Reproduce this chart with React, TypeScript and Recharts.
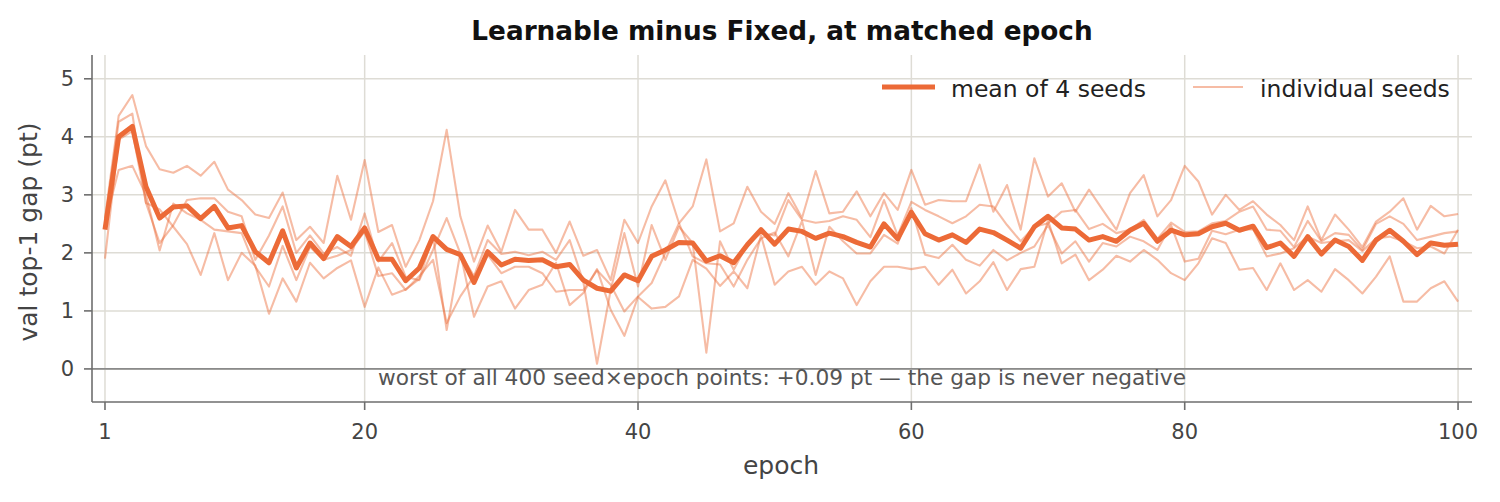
import React from 'react'
import { LineChart, Line, XAxis, YAxis, CartesianGrid, ReferenceLine } from 'recharts'

// epoch index 1..100
const epochs = Array.from({ length: 100 }, (_, i) => i + 1)

// mean of the 4 seeds
const meanGap = [
  2.40, 4.00, 4.18, 3.14, 2.60, 2.79, 2.81, 2.59, 2.80, 2.43,
  2.47, 2.02, 1.83, 2.38, 1.74, 2.17, 1.90, 2.28, 2.11, 2.43,
  1.89, 1.89, 1.52, 1.74, 2.28, 2.06, 1.97, 1.49, 2.02, 1.79,
  1.89, 1.87, 1.88, 1.76, 1.80, 1.53, 1.39, 1.34, 1.62, 1.52,
  1.94, 2.05, 2.18, 2.17, 1.86, 1.95, 1.83, 2.14, 2.40, 2.15,
  2.41, 2.37, 2.25, 2.34, 2.28, 2.18, 2.10, 2.50, 2.24, 2.70,
  2.33, 2.22, 2.31, 2.18, 2.41, 2.35, 2.22, 2.08, 2.45, 2.63,
  2.43, 2.41, 2.22, 2.28, 2.20, 2.39, 2.51, 2.20, 2.39, 2.31,
  2.33, 2.45, 2.51, 2.39, 2.46, 2.09, 2.17, 1.94, 2.28, 1.98,
  2.22, 2.11, 1.87, 2.22, 2.39, 2.20, 1.97, 2.17, 2.13, 2.15,
]

// individual seeds
const seedA = [
  2.6, 4.36, 4.72, 3.84, 3.44, 3.38, 3.50, 3.33, 3.57, 3.09,
  2.91, 2.66, 2.6, 3.04, 2.22, 2.45, 2.17, 3.33, 2.57, 3.60,
  2.36, 2.48, 1.76, 2.22, 2.89, 4.12, 2.63, 1.85, 2.47, 2.02,
  2.74, 2.40, 2.40, 2.0, 2.54, 1.95, 2.05, 1.53, 2.57, 2.17,
  2.80, 3.25, 2.51, 2.80, 3.61, 2.37, 2.51, 3.14, 2.71, 2.5,
  3.03, 2.6, 3.41, 2.68, 2.71, 3.06, 2.63, 3.03, 2.74, 3.43,
  2.83, 2.91, 2.89, 2.89, 3.52, 2.71, 3.17, 2.4, 3.63, 2.97,
  3.20, 2.71, 3.09, 2.74, 2.4, 3.03, 3.34, 2.63, 2.91, 3.50,
  3.23, 2.66, 3.0, 2.74, 2.89, 2.66, 2.48, 2.22, 2.80, 2.22,
  2.66, 2.40, 2.1, 2.54, 2.71, 2.94, 2.40, 2.81, 2.63, 2.67,
]
const seedB = [
  2.5, 4.26, 4.40, 2.86, 2.17, 2.48, 2.91, 2.94, 2.94, 2.71,
  2.63, 1.88, 2.3, 2.80, 2.0, 2.3, 1.99, 2.1, 1.95, 2.68,
  1.85, 2.17, 1.59, 1.53, 2.05, 2.6, 1.99, 1.6, 2.22, 1.98,
  2.02, 1.96, 2.02, 1.88, 2.22, 1.5, 0.09, 1.36, 2.34, 1.42,
  2.48, 1.88, 2.45, 2.17, 0.28, 2.2, 1.71, 2.15, 2.34, 2.3,
  2.91, 2.57, 2.52, 2.55, 2.63, 2.57, 2.27, 2.91, 2.3, 2.88,
  2.74, 2.63, 2.51, 2.63, 2.83, 2.8, 2.48, 2.2, 2.45, 2.51,
  2.71, 2.74, 2.41, 2.5, 2.34, 2.4, 2.57, 2.24, 2.52, 2.36,
  2.37, 2.51, 2.55, 2.71, 2.80, 2.4, 2.38, 2.1, 2.55, 2.2,
  2.34, 2.31, 2.05, 2.5, 2.63, 2.5, 2.22, 2.28, 2.34, 2.37,
]
const seedC = [
  2.5, 3.43, 3.50, 3.0, 2.04, 2.85, 2.68, 2.57, 2.40, 2.37,
  2.34, 1.76, 1.42, 2.12, 1.53, 2.1, 1.88, 1.95, 2.05, 2.37,
  1.6, 1.65, 1.36, 1.6, 1.88, 0.79, 1.25, 1.6, 1.97, 1.65,
  1.76, 1.76, 1.65, 1.33, 1.36, 1.36, 1.7, 1.45, 0.99, 1.25,
  1.48, 2.0, 2.51, 1.94, 1.82, 1.8, 1.42, 1.88, 2.25, 2.35,
  1.94, 2.55, 1.62, 2.45, 2.2, 1.99, 1.99, 2.31, 2.16, 2.77,
  1.97, 1.91, 2.14, 1.88, 1.78, 2.05, 1.87, 2.0, 2.11, 2.48,
  1.99, 2.20, 1.85, 2.17, 2.11, 2.28, 2.20, 2.05, 2.48, 1.85,
  1.9, 2.38, 2.32, 2.4, 2.41, 1.94, 1.99, 2.08, 2.28, 2.17,
  2.2, 2.22, 2.03, 2.25, 2.28, 2.2, 2.08, 2.11, 1.99, 2.4,
]
const seedD = [
  1.9, 3.95, 4.10, 2.86, 2.75, 2.45, 2.15, 1.62, 2.34, 1.53,
  2.0, 1.78, 0.95, 1.56, 1.16, 1.83, 1.56, 1.74, 1.87, 1.07,
  1.75, 1.28, 1.37, 1.55, 2.3, 0.67, 2.0, 0.9, 1.42, 1.51,
  1.04, 1.36, 1.45, 1.83, 1.10, 1.31, 1.72, 1.02, 0.57, 1.24,
  1.04, 1.07, 1.25, 1.88, 1.73, 1.43, 1.68, 1.39, 2.3, 1.45,
  1.68, 1.76, 1.45, 1.68, 1.56, 1.10, 1.51, 1.76, 1.76, 1.72,
  1.76, 1.45, 1.71, 1.30, 1.51, 1.84, 1.36, 1.72, 1.76, 2.56,
  1.82, 1.97, 1.53, 1.71, 1.95, 1.85, 2.05, 1.88, 1.65, 1.53,
  1.82, 2.25, 2.17, 1.71, 1.74, 1.36, 1.82, 1.36, 1.53, 1.33,
  1.72, 1.53, 1.3, 1.59, 1.94, 1.16, 1.16, 1.39, 1.51, 1.16,
]

const xTicks = [1, 20, 40, 60, 80, 100]
const yTicks = [0, 1, 2, 3, 4, 5]

const ORANGE = '#ec6a37'
const FONT = 'DejaVu Sans, Verdana, sans-serif'
const AXIS = '#6e6e6e'

const data = epochs.map((epoch, i) => ({
  epoch,
  mean: meanGap[i],
  s1: seedA[i],
  s2: seedB[i],
  s3: seedC[i],
  s4: seedD[i],
}))

const tickStyle = { fontSize: 21, fill: '#444', fontFamily: FONT }

export default function App() {
  return (
    <div style={{ position: 'absolute', left: 0, top: 0, width: 1500, height: 502, background: '#fff' }}>
      <LineChart width={1500} height={502} data={data} margin={{ top: 55, right: 28, left: 0, bottom: 0 }}>
        <CartesianGrid stroke="#dedcd5" strokeWidth={1.5}
          horizontalValues={yTicks} verticalValues={xTicks} />
        <XAxis
          dataKey="epoch" type="number" domain={[0.05, 101.02]} ticks={xTicks} allowDataOverflow
          height={100} tickSize={8} tickMargin={14} tick={tickStyle}
          axisLine={{ stroke: AXIS, strokeWidth: 1.6 }} tickLine={{ stroke: AXIS, strokeWidth: 1.6 }}
        />
        <YAxis
          type="number" domain={[-0.57, 5.41]} ticks={yTicks} allowDataOverflow
          width={92} tickSize={8} tickMargin={10} tick={tickStyle}
          axisLine={{ stroke: AXIS, strokeWidth: 1.6 }} tickLine={{ stroke: AXIS, strokeWidth: 1.6 }}
        />
        <ReferenceLine y={0} stroke="#8a8a8a" strokeWidth={1.6} />
        {['s1', 's2', 's3', 's4'].map(k => (
          <Line key={k} dataKey={k} stroke={ORANGE} strokeOpacity={0.45} strokeWidth={2.1}
            dot={false} activeDot={false} isAnimationActive={false} strokeLinejoin="round" />
        ))}
        <Line dataKey="mean" stroke={ORANGE} strokeWidth={5} dot={false} activeDot={false}
          isAnimationActive={false} strokeLinejoin="round" />
      </LineChart>

      <svg width={1500} height={502} style={{ position: 'absolute', left: 0, top: 0, pointerEvents: 'none' }}
        fontFamily={FONT}>
        <text x={782} y={40} textAnchor="middle" fontSize={26.3} fontWeight="bold" fill="#111">
          Learnable minus Fixed, at matched epoch
        </text>
        <text x={781} y={474} textAnchor="middle" fontSize={25} fill="#444">epoch</text>
        <text transform="translate(37,232) rotate(-90)" textAnchor="middle" fontSize={25} fill="#444">
          val top-1 gap (pt)
        </text>
        <text x={782} y={385} textAnchor="middle" fontSize={21.7} fill="#555">
          worst of all 400 seed×epoch points: +0.09 pt — the gap is never negative
        </text>

        <line x1={882} x2={935} y1={87} y2={87} stroke={ORANGE} strokeWidth={5} />
        <text x={951} y={96.5} fontSize={23.5} fill="#222">mean of 4 seeds</text>
        <line x1={1193} x2={1243} y1={87} y2={87} stroke={ORANGE} strokeOpacity={0.45} strokeWidth={2.1} />
        <text x={1260} y={96.5} fontSize={23.5} fill="#222">individual seeds</text>
      </svg>
    </div>
  )
}
